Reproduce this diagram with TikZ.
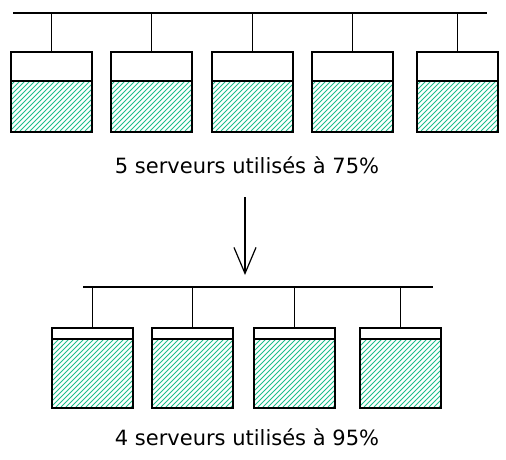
\documentclass[tikz,border=0pt]{standalone}
\usepackage{fontspec}
\setmainfont{DejaVu Sans}
\usetikzlibrary{arrows.meta}

\definecolor{hachure}{RGB}{32,190,140}

% name, left x, top y, divider y, bottom y
\newcommand{\serveur}[5]{
    \begin{scope}
      \clip (#2,#4) rectangle ({#2+81},#5);
      \foreach \k in {-75,-70,...,85}
        \draw[hachure, line width=0.8pt] ({#2+\k},#5) -- ++(100,-100);
    \end{scope}
    \node[draw, line width=1.8pt, anchor=north west, inner sep=0pt,
      minimum width=81pt, minimum height={(#5-#3)*1pt}] (#1) at (#2,#3) {};
    \draw[line width=1.8pt] (#2,#4) -- ({#2+81},#4);
}

\begin{document}
\begin{tikzpicture}[x=1pt, y=-1pt]
  \useasboundingbox (0,0) rectangle (506,460);

  % 5 serveurs
  \serveur{sa}{10}{51}{81}{131}
  \serveur{sb}{110}{51}{81}{131}
  \serveur{sc}{211}{51}{81}{131}
  \serveur{sd}{311}{51}{81}{131}
  \serveur{se}{416}{51}{81}{131}

  \coordinate (busA-g) at (13,13);
  \coordinate (busA-d) at (487,13);
  \draw[line width=1.6pt] (busA-g) -- (busA-d);
  \foreach \s in {sa,sb,sc,sd,se}
    \draw[line width=1.5pt] (\s.north |- busA-g) -- (\s.north);

  \node[font=\fontsize{21}{24}\selectfont] (txtA) at (247,165) {5 serveurs utilisés à 75\%};

  \coordinate (fl-a) at (245,197);
  \coordinate (fl-b) at (245,275);
  \draw[line width=1.2pt, -{Straight Barb[length=26pt,width=22pt,line width=1.2pt]}] (fl-a) -- (fl-b);

  % 4 serveurs
  \serveur{ta}{51}{327}{339}{407}
  \serveur{tb}{151}{327}{339}{407}
  \serveur{tc}{253}{327}{339}{407}
  \serveur{td}{359}{327}{339}{407}

  \coordinate (busB-g) at (83,287);
  \coordinate (busB-d) at (433,287);
  \draw[line width=1.6pt] (busB-g) -- (busB-d);
  \foreach \s in {ta,tb,tc,td}
    \draw[line width=1.5pt] (\s.north |- busB-g) -- (\s.north);

  \node[font=\fontsize{21}{24}\selectfont] (txtB) at (247,437) {4 serveurs utilisés à 95\%};

\end{tikzpicture}
\end{document}
